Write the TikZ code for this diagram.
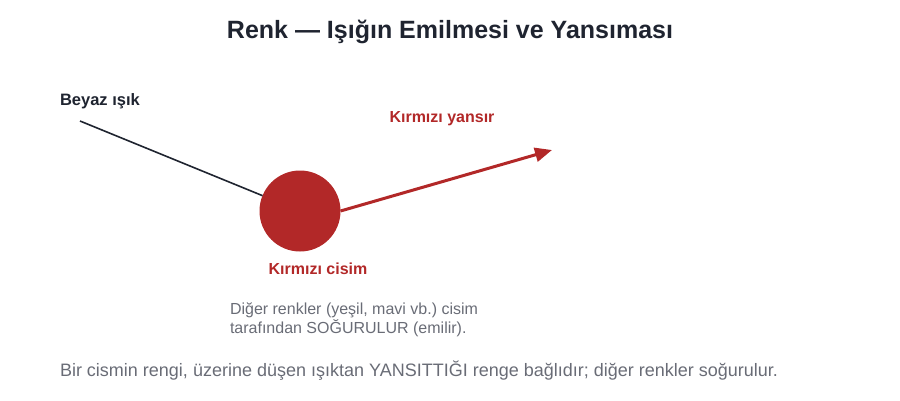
\documentclass[tikz,border=0pt]{standalone}
\usepackage{fontspec}
\setmainfont{Liberation Sans}
\usepackage{tikz}
\usetikzlibrary{arrows.meta,calc}
\frenchspacing

\definecolor{ink}{RGB}{31,36,48}
\definecolor{redobj}{RGB}{178,40,40}
\definecolor{greytext}{RGB}{105,108,118}

\begin{document}
\begin{tikzpicture}[x=1pt,y=-1pt,every node/.style={inner sep=0,outer sep=0}]
    \useasboundingbox (0,0) rectangle (900,400);
    \node[text=ink,font=\bfseries\fontsize{25}{30}\selectfont](title) at (450,32)
        {Renk — Işığın Emilmesi ve Yansıması};
    \node[text=ink,font=\bfseries\fontsize{16.5}{20}\selectfont,anchor=west](white) at (60,101)
        {Beyaz ışık};
    \node[circle,fill=redobj,minimum size=81](obj) at (300,211) {};
    \node[text=redobj,font=\bfseries\fontsize{16}{19}\selectfont](objlbl) at (318,269)
        {Kırmızı cisim};
    \node[text=redobj,font=\bfseries\fontsize{16}{19}\selectfont](refl) at (442,119)
        {Kırmızı yansır};
    \node[text=greytext,font=\fontsize{16}{18.5}\selectfont,anchor=base west,align=left](abs) at (230,333)
        {Diğer renkler (yeşil, mavi vb.) cisim\\tarafından SOĞURULUR (emilir).};
    \node[text=greytext,font=\fontsize{18}{22}\selectfont,anchor=west](note) at (60,371)
        {Bir cismin rengi, üzerine düşen ışıktan YANSITTIĞI renge bağlıdır; diğer renkler soğurulur.};
    \coordinate(src) at (80,121);
    \coordinate(tip) at (552,150);
    \draw[ink,line width=1.6] (src) -- (obj);
    \draw[redobj,line width=3,-{Stealth[length=17,width=14,inset=0]}] (obj.east) -- (tip);
\end{tikzpicture}
\end{document}
